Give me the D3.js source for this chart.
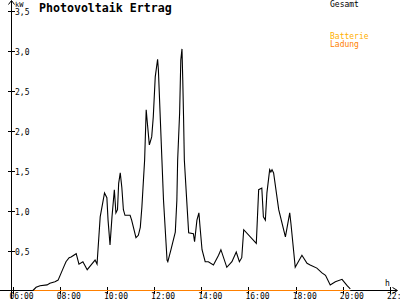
<!DOCTYPE html>
<html>
<head>
<meta charset="utf-8">
<script src="https://cdn.jsdelivr.net/npm/d3@7"></script>
<style>
  html, body { margin: 0; padding: 0; background: #fff; }
  svg { display: block; }
  text { font-family: "DejaVu Sans Mono", monospace; }
</style>
</head>
<body>
<svg width="400" height="300"></svg>
<script>
// Gesamt (kW) over the day
var times = ["06:52","07:00","07:10","07:28","07:35","07:48","07:56","08:09","08:16","08:24",
  "08:29","08:42","08:49","08:59","09:10","09:20","09:30","09:35","09:43","09:54",
  "10:00","10:03","10:08","10:13","10:19","10:23","10:27","10:30","10:34","10:38",
  "10:42","10:46","10:59","11:03","11:14","11:20","11:25","11:29","11:33","11:36",
  "11:40","11:43","11:48","11:54","11:58","12:03","12:09","12:11","12:16","12:20",
  "12:24","12:33","12:35","12:43","12:54","12:58","13:00","13:05","13:08","13:11",
  "13:13","13:15","13:17","13:23","13:28","13:40","13:43","13:49","13:54","13:57",
  "14:02","14:10","14:18","14:31","14:44","14:50","15:05","15:18","15:29","15:37",
  "15:43","15:48","16:20","16:26","16:34","16:38","16:43","16:47","16:54","16:57",
  "17:00","17:04","17:17","17:34","17:45","17:48","17:59","18:16","18:29","18:37",
  "18:54","19:07","19:16","19:28","19:41","19:58","20:11","20:19"];
var gesamt = [0.00,0.04,0.06,0.07,0.09,0.11,0.13,0.28,0.36,0.41,
  0.42,0.46,0.33,0.36,0.26,0.32,0.38,0.33,0.92,1.22,
  1.16,0.88,0.57,0.92,1.26,0.97,1.01,1.34,1.47,1.29,
  1.01,0.94,0.94,0.88,0.66,0.69,0.79,1.04,1.38,1.63,
  2.26,2.09,1.82,1.92,2.17,2.67,2.89,2.76,2.13,1.63,
  1.13,0.38,0.36,0.51,0.73,1.13,1.63,2.22,2.88,3.02,
  2.63,2.17,1.63,1.13,0.72,0.71,0.61,0.88,0.97,0.79,
  0.51,0.36,0.36,0.32,0.44,0.51,0.29,0.36,0.48,0.36,
  0.41,0.76,0.59,1.26,1.28,0.92,0.88,1.22,1.51,1.48,
  1.51,1.47,1.01,0.67,0.97,0.84,0.29,0.44,0.34,0.32,
  0.28,0.22,0.19,0.07,0.11,0.14,0.06,0.02];

// Batterie Ladung (kW)
var ladungTimes = ["06:52","20:19"];
var ladung = [0, 0];

var yTicks = [0.5, 1.0, 1.5, 2.0, 2.5, 3.0, 3.5];
var xTicks = [6, 8, 10, 12, 14, 16, 18, 20, 22];
var xTickLabels = ["06:00","08:00","10:00","12:00","14:00","16:00","18:00","20:00","22:"];

function hours(s) {
  var p = s.split(":");
  return +p[0] + (+p[1]) / 60;
}

var svg = d3.select("svg");

var x = d3.scaleLinear().domain([6, 22]).range([12.5, 390]);
var y = d3.scaleLinear().domain([0, 3.5]).range([290.5, 10.5]);

// axes
svg.append("line").attr("x1", 0).attr("x2", 397).attr("y1", 290.5).attr("y2", 290.5)
  .attr("stroke", "#000");
svg.append("path").attr("d", "M392.5,287.5L397.5,290.5L392.5,293.5")
  .attr("fill", "none").attr("stroke", "#000");
svg.append("line").attr("x1", 11.5).attr("x2", 11.5).attr("y1", 1).attr("y2", 299)
  .attr("stroke", "#000");
svg.append("path").attr("d", "M8.5,4.5L11.5,0.5L14.5,4.5")
  .attr("fill", "none").attr("stroke", "#000");

svg.selectAll(".yt").data(yTicks).join("line")
  .attr("x1", 8).attr("x2", 15)
  .attr("y1", function(d){ return Math.round(y(d)) + 0.5; })
  .attr("y2", function(d){ return Math.round(y(d)) + 0.5; })
  .attr("stroke", "#000");
svg.selectAll(".yl").data(yTicks).join("text")
  .attr("x", 15)
  .attr("y", function(d){ return Math.round(y(d)) + 3.5; })
  .attr("font-size", 8)
  .text(function(d){ return d.toFixed(1).replace(".", ","); });

svg.selectAll(".xt").data(xTicks).join("line")
  .attr("x1", function(d){ return Math.round(x(d)) + 0.5; })
  .attr("x2", function(d){ return Math.round(x(d)) + 0.5; })
  .attr("y1", 287).attr("y2", 294)
  .attr("stroke", "#000");
svg.selectAll(".xl").data(xTicks).join("text")
  .attr("x", function(d){ return x(d) - 3; })
  .attr("y", 298.5)
  .attr("font-size", 8)
  .text(function(d, i){ return xTickLabels[i]; });

svg.append("text").attr("x", 15).attr("y", 7).attr("font-size", 7).text("kW");
svg.append("text").attr("x", 385).attr("y", 285.5).attr("font-size", 8).text("h");

// title + legend
svg.append("text").attr("x", 39).attr("y", 11.7)
  .attr("font-size", 11.6).attr("font-weight", "bold").text("Photovoltaik Ertrag");
svg.append("text").attr("x", 330).attr("y", 7).attr("font-size", 8).text("Gesamt");
svg.append("text").attr("x", 330).attr("y", 38.5).attr("font-size", 8)
  .attr("fill", "#ffb000").text("Batterie");
svg.append("text").attr("x", 330).attr("y", 46.5).attr("font-size", 8)
  .attr("fill", "#ff8000").text("Ladung");

// series
var line = d3.line()
  .x(function(d){ return x(d[0]); })
  .y(function(d){ return y(d[1]); });

svg.append("path")
  .datum(ladungTimes.map(function(t, i){ return [hours(t), ladung[i]]; }))
  .attr("d", line).attr("fill", "none").attr("stroke", "#ff8000").attr("stroke-width", 1.2);

svg.append("path")
  .datum(times.map(function(t, i){ return [hours(t), gesamt[i]]; }))
  .attr("d", line).attr("fill", "none").attr("stroke", "#000").attr("stroke-width", 1.1);
</script>
</body>
</html>
